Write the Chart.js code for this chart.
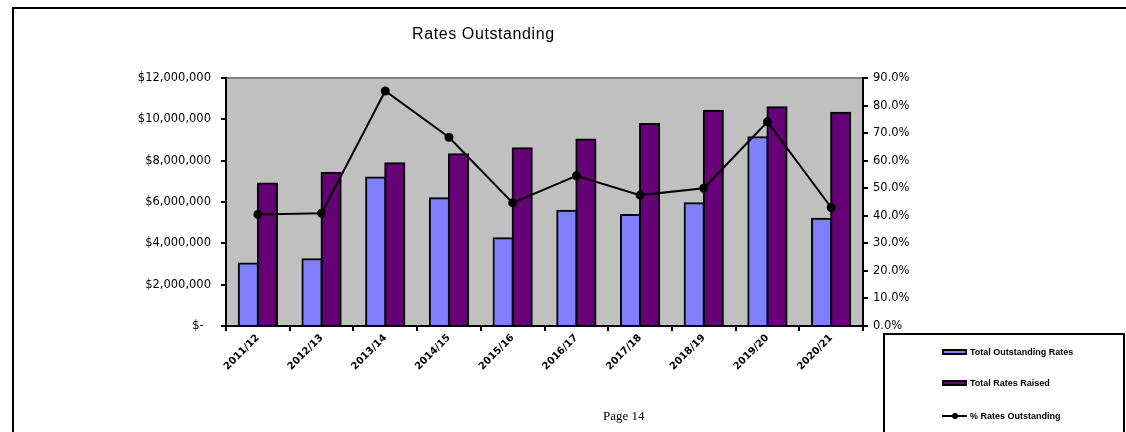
<!DOCTYPE html>
<html>
<head>
<meta charset="utf-8">
<script src="https://cdn.jsdelivr.net/npm/chart.js@4.4.1/dist/chart.umd.min.js"></script>
<style>
  html, body { margin: 0; padding: 0; background: #fff; }
  body { width: 1126px; height: 432px; position: relative; overflow: hidden; }
  #c { position: absolute; left: 0; top: 0; }
  .frame { position: absolute; left: 12px; top: 7px; width: 1130px; height: 440px; border: 2px solid #000; box-sizing: border-box; }
  .title { position: absolute; left: 412px; top: 25px; font: 16px "Liberation Sans", Arial, sans-serif; letter-spacing: 0.6px; color: #000; white-space: nowrap; }
  .page { position: absolute; left: 603px; top: 408px; font: 13px "Liberation Serif", "Times New Roman", serif; color: #000; white-space: nowrap; }
  .legend { position: absolute; left: 883px; top: 333px; width: 242px; height: 120px; border: 2px solid #000; box-sizing: border-box; background: #fff; }
  .item { position: absolute; left: 57px; height: 10px; font: bold 9px "Liberation Sans", Arial, sans-serif; color: #000; white-space: nowrap; }
  .sw { position: absolute; left: 0; top: 2px; width: 25px; height: 6px; border: 2px solid #000; box-sizing: border-box; }
  .ln { position: absolute; left: 0; top: 4px; width: 25px; height: 2px; background: #000; }
  .dot { position: absolute; left: 10px; top: 2px; width: 6px; height: 6px; border-radius: 50%; background: #000; }
  .txt { position: absolute; left: 28px; top: 0; line-height: 10px; }
</style>
</head>
<body>
<canvas id="c" width="1126" height="432"></canvas>
<div class="frame"></div>
<div class="title">Rates Outstanding</div>
<div class="page">Page 14</div>
<div class="legend" id="legend"></div>
<script>
const categories = ['2011/12','2012/13','2013/14','2014/15','2015/16','2016/17','2017/18','2018/19','2019/20','2020/21'];
const outstandingRates = [3030000, 3230000, 7190000, 6180000, 4240000, 5580000, 5370000, 5940000, 9130000, 5190000];
const ratesRaised = [6900000, 7420000, 7870000, 8310000, 8600000, 9030000, 9770000, 10420000, 10580000, 10320000];
const pctOutstanding = [40.5, 40.9, 85.3, 68.5, 44.7, 54.5, 47.5, 50.0, 74.1, 43.0];
const seriesNames = ['Total Outstanding Rates', 'Total Rates Raised', '% Rates Outstanding'];
const leftTicks = { min: 0, max: 12000000, step: 2000000 };
const rightTicks = { min: 0, max: 90, step: 10 };

const colLight = '#8080ff';
const colDark = '#660077';

const bgPlugin = {
  id: 'plotbg',
  beforeDraw(chart) {
    const a = chart.chartArea, ctx = chart.ctx;
    ctx.save();
    ctx.fillStyle = '#c0c0c0';
    ctx.fillRect(a.left, a.top, a.right - a.left, a.bottom - a.top);
    ctx.strokeStyle = '#808080';
    ctx.lineWidth = 2;
    ctx.beginPath();
    ctx.moveTo(a.left, a.top);
    ctx.lineTo(a.right, a.top);
    ctx.stroke();
    ctx.restore();
  }
};

const tickFont = { family: '"DejaVu Sans", sans-serif', size: 11.5 };

new Chart(document.getElementById('c'), {
  type: 'bar',
  data: {
    labels: categories,
    datasets: [
      { type: 'line', label: seriesNames[2], data: pctOutstanding, yAxisID: 'y1', order: 0,
        borderColor: '#000', borderWidth: 2, backgroundColor: '#000',
        pointRadius: 3.5, pointBackgroundColor: '#000', pointBorderColor: '#000', tension: 0, fill: false },
      { label: seriesNames[0], data: outstandingRates, yAxisID: 'y', order: 1,
        backgroundColor: colLight, borderColor: '#000', borderWidth: 2, borderSkipped: 'bottom', inflateAmount: 1,
        categoryPercentage: 0.6, barPercentage: 1.0 },
      { label: seriesNames[1], data: ratesRaised, yAxisID: 'y', order: 1,
        backgroundColor: colDark, borderColor: '#000', borderWidth: 2, borderSkipped: 'bottom', inflateAmount: 1,
        categoryPercentage: 0.6, barPercentage: 1.0 }
    ]
  },
  options: {
    responsive: false,
    animation: false,
    devicePixelRatio: 1,
    layout: { padding: { top: 78, left: 0, right: 0, bottom: 0 } },
    plugins: { legend: { display: false }, title: { display: false }, tooltip: { enabled: false } },
    scales: {
      x: {
        afterFit(s) { s.height = 106; },
        grid: { display: true, drawOnChartArea: false, drawTicks: true, tickLength: 5, color: '#000', lineWidth: 2, offset: true },
        border: { display: true, color: '#000', width: 2 },
        ticks: { color: '#000', font: { family: '"DejaVu Sans", sans-serif', size: 10, weight: 'bold' },
                 maxRotation: 45, minRotation: 45, padding: 1, autoSkip: false }
      },
      y: {
        position: 'left',
        min: leftTicks.min, max: leftTicks.max,
        afterFit(s) { s.width = 226; },
        grid: { display: true, drawOnChartArea: false, drawTicks: true, tickLength: 5, color: '#000', lineWidth: 2 },
        border: { display: true, color: '#000', width: 2 },
        ticks: { stepSize: leftTicks.step, color: '#000', font: tickFont, padding: 10,
                 callback: v => v === 0 ? '$-  ' : '$' + Number(v).toLocaleString('en-US') }
      },
      y1: {
        position: 'right',
        min: rightTicks.min, max: rightTicks.max,
        afterFit(s) { s.width = 263; },
        grid: { display: true, drawOnChartArea: false, drawTicks: true, tickLength: 5, color: '#000', lineWidth: 2 },
        border: { display: true, color: '#000', width: 2 },
        ticks: { stepSize: rightTicks.step, color: '#000', font: tickFont, padding: 5,
                 callback: v => Number(v).toFixed(1) + '%' }
      }
    }
  },
  plugins: [bgPlugin]
});

// legend
const lg = document.getElementById('legend');
const items = [
  { name: seriesNames[0], kind: 'bar', color: colLight, top: 12 },
  { name: seriesNames[1], kind: 'bar', color: colDark, top: 43 },
  { name: seriesNames[2], kind: 'line', color: '#000', top: 76 }
];
items.forEach(it => {
  const d = document.createElement('div');
  d.className = 'item';
  d.style.top = it.top + 'px';
  if (it.kind === 'bar') {
    d.innerHTML = '<div class="sw" style="background:' + it.color + '"></div>';
  } else {
    d.innerHTML = '<div class="ln"></div><div class="dot"></div>';
  }
  const t = document.createElement('div');
  t.className = 'txt';
  t.textContent = it.name;
  d.appendChild(t);
  lg.appendChild(d);
});
</script>
</body>
</html>
